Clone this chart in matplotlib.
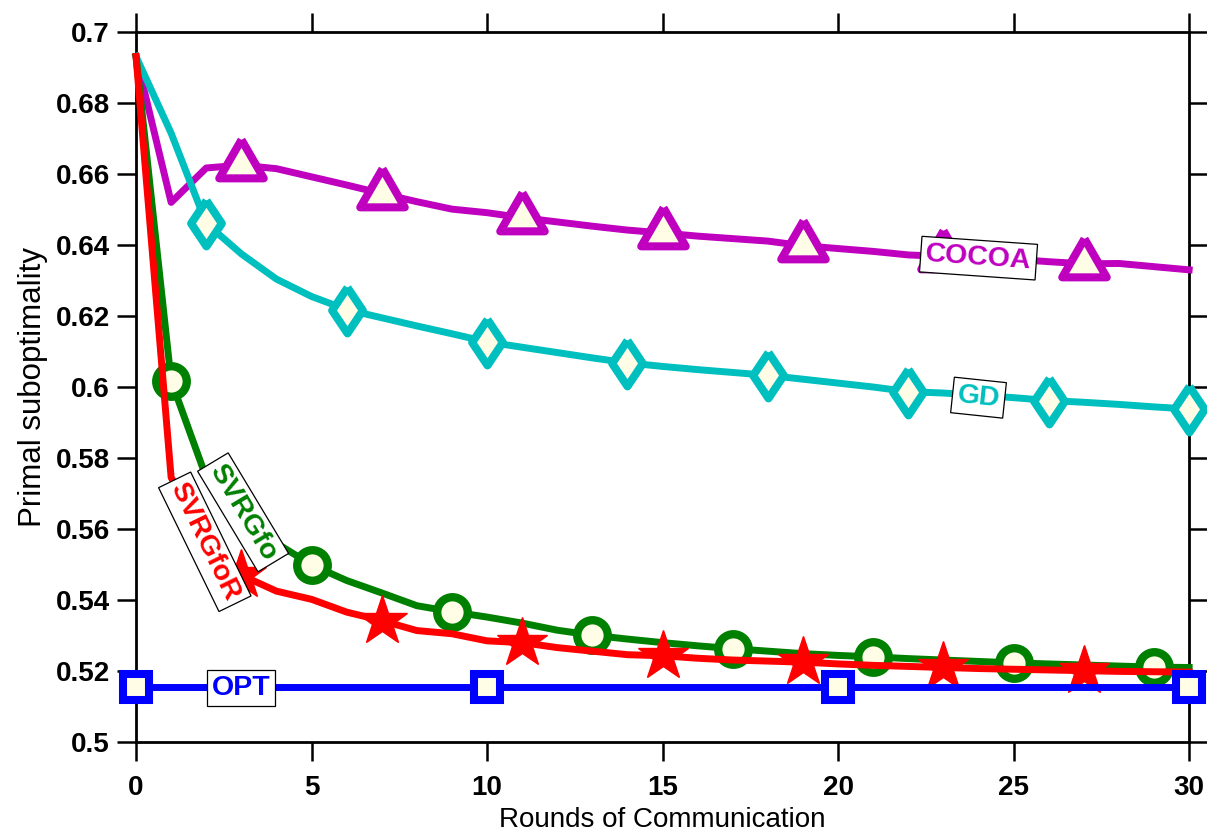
"""
Primal suboptimality vs rounds of communication.
"""
import matplotlib
matplotlib.use('Agg')
from matplotlib import pyplot as plt
from matplotlib.markers import MarkerStyle

# data
rounds = list(range(31))

cocoa = [0.6931, 0.6520, 0.6617, 0.6625, 0.6615, 0.6592, 0.6569, 0.6545, 0.6522, 0.6501,
         0.6491, 0.6477, 0.6465, 0.6453, 0.6442, 0.6434, 0.6425, 0.6418, 0.6411, 0.6398,
         0.6390, 0.6382, 0.6372, 0.6368, 0.6365, 0.6360, 0.6353, 0.6347, 0.6348, 0.6339,
         0.6330]
gd = [0.6931, 0.6715, 0.6461, 0.6375, 0.6304, 0.6255, 0.6218, 0.6195, 0.6172, 0.6150,
      0.6127, 0.6112, 0.6097, 0.6082, 0.6068, 0.6058, 0.6049, 0.6041, 0.6033, 0.6022,
      0.6011, 0.6000, 0.5987, 0.5983, 0.5977, 0.5970, 0.5962, 0.5957, 0.5951, 0.5944,
      0.5938]
svrgfo = [0.6931, 0.6018, 0.5745, 0.5635, 0.5560, 0.5499, 0.5455, 0.5420, 0.5384, 0.5367,
          0.5352, 0.5335, 0.5315, 0.5301, 0.5290, 0.5280, 0.5271, 0.5263, 0.5256, 0.5249,
          0.5244, 0.5240, 0.5235, 0.5231, 0.5227, 0.5223, 0.5220, 0.5217, 0.5214, 0.5211,
          0.5210]
svrgfor = [0.6931, 0.5745, 0.5580, 0.5470, 0.5425, 0.5402, 0.5366, 0.5342, 0.5314, 0.5305,
           0.5285, 0.5280, 0.5266, 0.5256, 0.5246, 0.5243, 0.5236, 0.5231, 0.5228, 0.5225,
           0.5220, 0.5216, 0.5213, 0.5210, 0.5207, 0.5205, 0.5203, 0.5201, 0.5199, 0.5198,
           0.5197]
opt = [0.5155] * 31

yticks = [0.5, 0.52, 0.54, 0.56, 0.58, 0.6, 0.62, 0.64, 0.66, 0.68, 0.7]
ytick_labels = ['0.5', '0.52', '0.54', '0.56', '0.58', '0.6', '0.62', '0.64', '0.66', '0.68', '0.7']
xticks = [0, 5, 10, 15, 20, 25, 30]

plt.rcParams['font.family'] = ['Liberation Sans', 'DejaVu Sans']

MAG = '#bf00bf'
CYAN = '#00bfbf'
GREEN = '#008000'
RED = '#ff0000'
BLUE = '#0000ff'
FACE = '#fffde6'
LW = 5
MEW = 5.8

# matlab-like markers: triangle centred on its centroid, fat diamond
tri = MarkerStyle([(0, 1), (-0.866, -0.5), (0.866, -0.5), (0, 1)], joinstyle='miter')
dia = MarkerStyle([(0, 1), (0.67, 0), (0, -1), (-0.67, 0), (0, 1)], joinstyle='miter')
sq = MarkerStyle('s', joinstyle='miter')

fig = plt.figure(figsize=(12.07, 8.33), dpi=100)
ax = fig.add_axes([0.1127, 0.1092, 0.8725, 0.8524])

ax.plot(rounds, cocoa, color=MAG, lw=LW, marker=tri, ms=37, mfc=FACE, mec=MAG, mew=MEW,
        markevery=(3, 4), clip_on=False, zorder=3)
ax.plot(rounds, gd, color=CYAN, lw=LW, marker=dia, ms=33, mfc=FACE, mec=CYAN, mew=MEW,
        markevery=(2, 4), clip_on=False, zorder=4)
ax.plot(rounds, svrgfo, color=GREEN, lw=LW, marker='o', ms=22, mfc=FACE, mec=GREEN, mew=6,
        markevery=(1, 4), clip_on=False, zorder=5)
ax.plot(rounds, svrgfor, color=RED, lw=LW, marker='*', ms=38, mfc=RED, mec=RED, mew=1,
        markevery=(3, 4), clip_on=False, zorder=6)
ax.plot(rounds, opt, color=BLUE, lw=LW, marker=sq, ms=19, mfc=FACE, mec=BLUE, mew=MEW,
        markevery=(0, 10), clip_on=False, zorder=7)

# inline labels
box = dict(boxstyle='square,pad=0.17', fc='white', ec='black', lw=0.9)
lab = dict(fontsize=20.5, fontweight='bold', ha='center', va='center',
           rotation_mode='anchor', bbox=box, zorder=10)
ax.text(24.0, 0.6363, 'COCOA', color=MAG, rotation=-4, **lab)
ax.text(24.0, 0.5970, 'GD', color=CYAN, rotation=-6, **lab)
ax.text(3.0, 0.5153, 'OPT', color=BLUE, **lab)
ax.text(3.05, 0.5647, 'SVRGfo', color=GREEN, rotation=-59, **lab)
ax.text(1.96, 0.5564, 'SVRGfoR', color=RED, rotation=-64, **lab)

ax.set_xlim(0, 30)
ax.set_ylim(0.5, 0.7)
ax.set_xticks(xticks)
ax.set_yticks(yticks)
ax.set_yticklabels(ytick_labels)

for s in ax.spines.values():
    s.set_linewidth(2)
ax.tick_params(axis='both', direction='out', length=14, width=1.8, top=True, right=True,
               labelsize=20)
ax.tick_params(axis='x', pad=10)
ax.tick_params(axis='y', pad=5)
for t in ax.get_xticklabels() + ax.get_yticklabels():
    t.set_fontweight('bold')

ax.set_xlabel('Rounds of Communication', fontsize=20, labelpad=4)
ax.set_ylabel('Primal suboptimality', fontsize=22.5, labelpad=5)

fig.savefig('out.png', dpi=100)
